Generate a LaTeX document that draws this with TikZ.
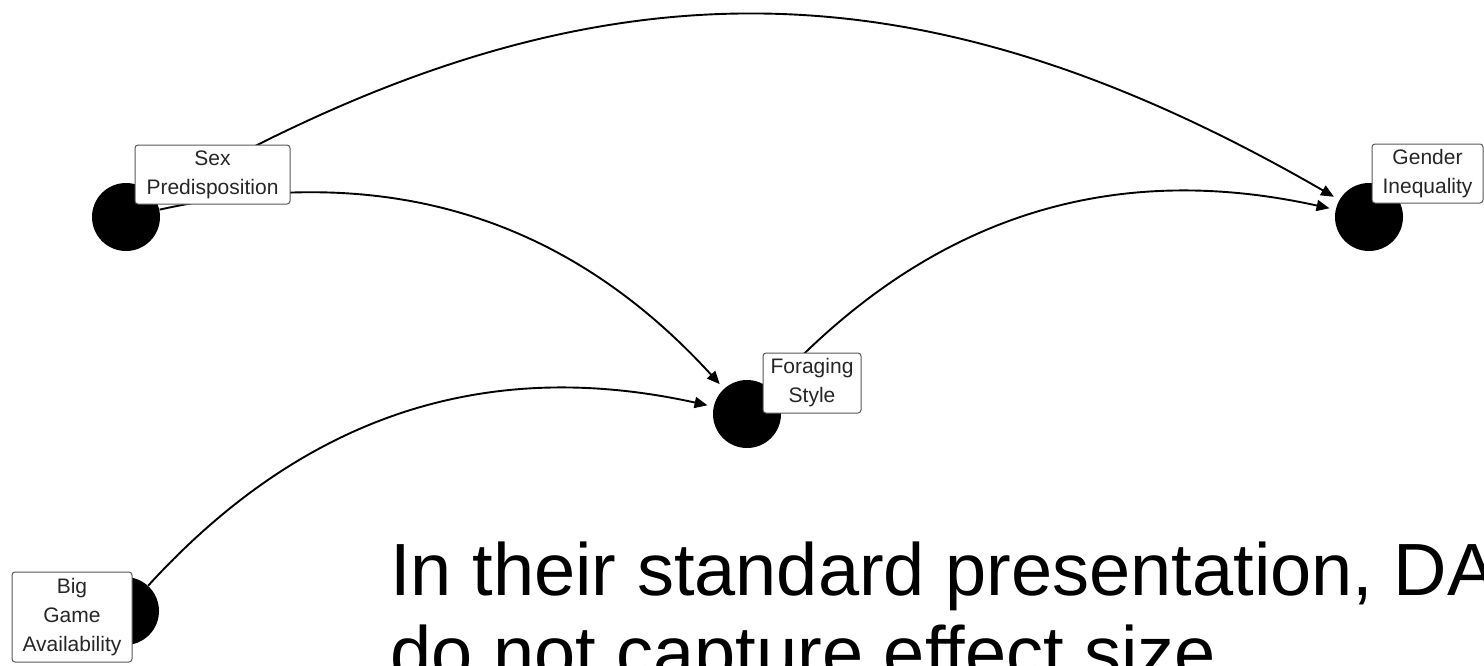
\documentclass[tikz,border=0pt]{standalone}
\usepackage{fontspec}
\setmainfont{Liberation Sans}
\usetikzlibrary{arrows.meta}
\pgfdeclarelayer{background}
\pgfsetlayers{background,main}
\tikzset{
  dagnode/.style={circle, fill=black, minimum size=34pt, inner sep=0pt},
  daglabel/.style={draw=black!65, line width=0.5pt, fill=white, rounded corners=1.5pt,
    inner sep=0pt, align=center, text=black!85,
    font=\fontsize{10.5pt}{14.5pt}\selectfont},
  dagedge/.style={line width=0.95pt, -{Triangle[length=6.5pt,width=5.5pt]},
    bend left=30, looseness=1, shorten >=3pt}
}
\begin{document}
\begin{tikzpicture}[x=0.5pt,y=-0.5pt]
\useasboundingbox (0,0) rectangle (1484,665);
\clip (0,0) rectangle (1484,665);
% circles
\node[dagnode] (sex) at (126,217) {};
\node[dagnode] (for) at (747,414) {};
\node[dagnode] (gen) at (1369,217) {};
\node[dagnode] (big) at (125,611) {};
% labels
\node[daglabel, minimum width=77.5pt, minimum height=29.5pt] (sexl) at (212.5,174.5) {Sex\\Predisposition};
\node[daglabel, minimum width=49pt, minimum height=30pt] (forl) at (812,383) {Foraging\\Style};
\node[daglabel, minimum width=55.5pt, minimum height=29.5pt] (genl) at (1427.5,173.5) {Gender\\Inequality};
\node[daglabel, minimum width=60pt, minimum height=45pt] (bigl) at (72,617) {Big\\Game\\Availability};
% edges
\begin{pgfonlayer}{background}
\fill[white] (0,0) rectangle (1484,665);
\draw[dagedge, looseness=1.07] (sex) to (gen);
\draw[dagedge] (sex) to (for);
\draw[dagedge] (for) to (gen);
\draw[dagedge] (big) to (for);
\end{pgfonlayer}
% caption text
\node[anchor=base west, inner sep=0pt, align=left, font=\fontsize{37pt}{41.5pt}\selectfont] (cap) at (390,678)
  {In their standard presentation, DA\\do not capture effect size};
\end{tikzpicture}
\end{document}
